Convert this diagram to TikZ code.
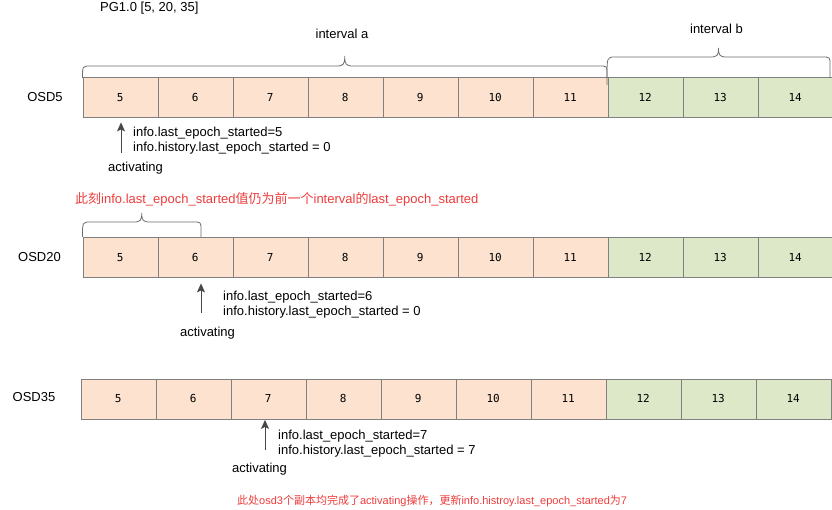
\documentclass[tikz,border=0pt]{standalone}
\usepackage{fontspec}
\setmainfont{Liberation Sans}
\setmonofont{DejaVu Sans Mono}
\newfontfamily\cjk{Noto Sans CJK SC}
\usetikzlibrary{arrows.meta}
\definecolor{peach}{HTML}{FCE2CF}
\definecolor{sage}{HTML}{DCE8C8}
\definecolor{cellline}{HTML}{808080}
\definecolor{noteRed}{HTML}{EE3B3B}

\begin{document}
\begin{tikzpicture}[
    x=1pt, y=-1pt,
    cell/.style={rectangle, draw=cellline, minimum width=75pt, minimum height=40pt, anchor=north west, inner sep=0pt, font=\ttfamily\fontsize{11}{13}\selectfont},
    oldcell/.style={cell, fill=peach},
    newcell/.style={cell, fill=sage},
    txt/.style={inner sep=0pt, font=\fontsize{13}{15}\selectfont},
    note/.style={txt, text=noteRed, anchor=west},
    bracket/.style={draw=cellline!85!black, line width=0.8pt},
    pointer/.style={draw=black!72, line width=1pt, -{Stealth[length=9pt,width=8pt,inset=2pt]}},
    ]
\useasboundingbox (0,0) rectangle (832,510);

%Cells
\foreach \osd/\xo/\yo in {5/82.5/77.5, 20/82.5/237.5, 35/80.5/378.5} {
    \foreach \n in {5,...,11}
        \node[oldcell] (osd\osd-\n) at ({\xo+75*(\n-5)},\yo) {\n};
    \foreach \n in {12,13,14}
        \node[newcell] (osd\osd-\n) at ({\xo+75*(\n-5)},\yo) {\n};
}

%Labels
\node[txt, anchor=west] (pg)   at (100,8)   {PG1.0 [5, 20, 35]};
\node[txt]              (inta) at (342,34)  {interval a};
\node[txt]              (intb) at (716.5,29) {interval b};
\node[txt] (lbl5)  at (45,97)   {OSD5};
\node[txt] (lbl20) at (39.5,257) {OSD20};
\node[txt] (lbl35) at (34,397)  {OSD35};

%Brackets
\foreach \xa/\xb/\ya/\yb/\yl/\yt in {82.5/607/78/85/66/56, 607/830/78/78/57/48, 82.5/201/237/237/222/213} {
    \draw[bracket] (\xa,\ya) .. controls (\xa,\yl) .. (\xa+8,\yl)
        -- ({(\xa+\xb)/2-8},\yl) .. controls ({(\xa+\xb)/2-1},\yl) and ({(\xa+\xb)/2},\yl-2) .. ({(\xa+\xb)/2},\yt)
        .. controls ({(\xa+\xb)/2},\yl-2) and ({(\xa+\xb)/2+1},\yl) .. ({(\xa+\xb)/2+8},\yl)
        -- (\xb-8,\yl) .. controls (\xb,\yl) .. (\xb,\yl+8) -- (\xb,\yb);
}

%Activating
\node[txt, anchor=west, align=left] (info5)  at (133,140.5) {info.last\_epoch\_started=5\\info.history.last\_epoch\_started = 0};
\node[txt] (act5) at (135.5,168) {activating};
\coordinate (tail5) at (121,153);
\draw[pointer, shorten >=4.5pt] (tail5) -- (tail5 |- osd5-5.south);

\node[note] (note20) at (75,199) {{\cjk 此刻}info.last\_epoch\_started{\cjk 值仍为前一个}interval{\cjk 的}last\_epoch\_started};
\node[txt, anchor=west, align=left] (info20) at (223,304.5) {info.last\_epoch\_started=6\\info.history.last\_epoch\_started = 0};
\node[txt] (act20) at (207.5,333) {activating};
\coordinate (tail20) at (201,313);
\draw[pointer, shorten >=5.5pt] (tail20) -- (tail20 |- osd20-6.south);

\node[txt, anchor=west, align=left] (info35) at (278,444) {info.last\_epoch\_started=7\\info.history.last\_epoch\_started = 7};
\node[txt] (act35) at (259.5,469) {activating};
\coordinate (tail35) at (265,450);
\draw[pointer, shorten >=1pt] (tail35) -- (tail35 |- osd35-7.south);

\node[note, font=\fontsize{11}{13}\selectfont] (note35) at (237,501) {{\cjk 此处}osd3{\cjk 个副本均完成了}activating{\cjk 操作，更新}info.histroy.last\_epoch\_started{\cjk 为}7};
\end{tikzpicture}
\end{document}
